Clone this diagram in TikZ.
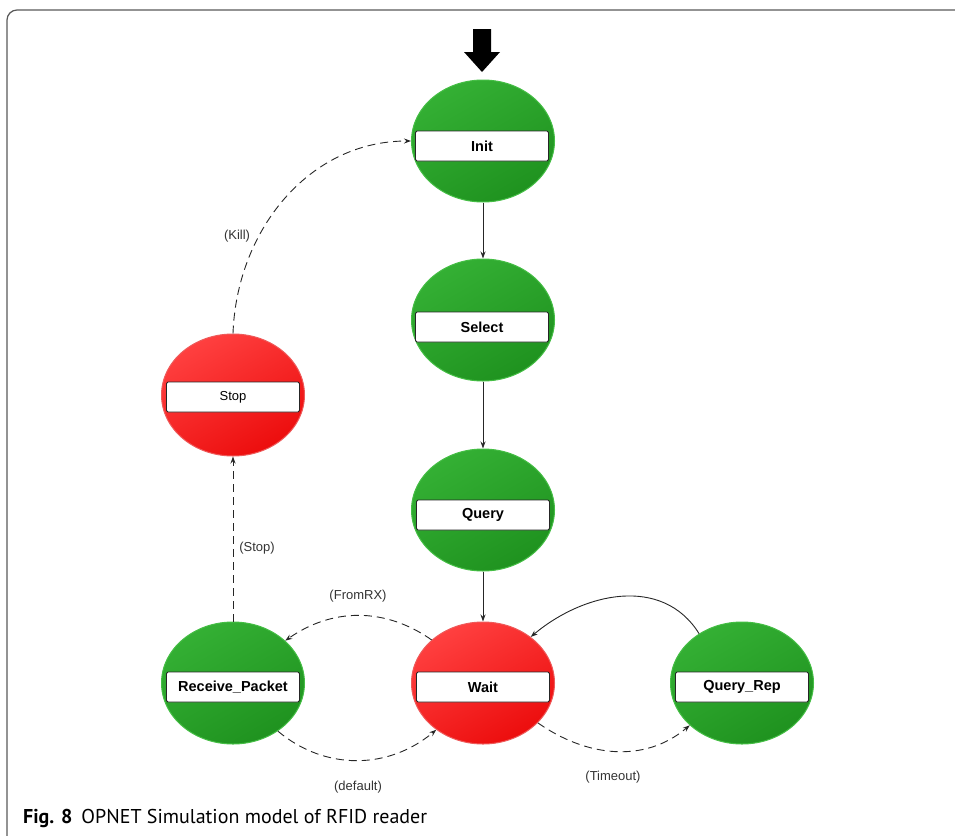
\documentclass[tikz,border=0pt]{standalone}
\usepackage{fontspec}
\setmainfont{Liberation Sans}
\newfontfamily\capfont{PT Sans}
\usetikzlibrary{shapes.geometric,arrows.meta,calc}
\definecolor{gLight}{HTML}{34B034}
\definecolor{gDark}{HTML}{1F921F}
\definecolor{gEdge}{HTML}{45BE45}
\definecolor{rLight}{HTML}{FF4040}
\definecolor{rDark}{HTML}{EC0D0D}
\definecolor{rEdge}{HTML}{EE5A5A}
\begin{document}
\begin{tikzpicture}[x=1pt,y=1pt]
\tikzset{
 st/.style={ellipse, minimum width=143pt, minimum height=122pt, inner sep=0pt, line width=1pt},
 gst/.style={st, top color=gLight, bottom color=gDark, shading angle=30, draw=gEdge},
 rst/.style={st, top color=rLight, bottom color=rDark, shading angle=30, draw=rEdge},
 lbl/.style={draw=black!85, fill=white, rounded corners=1.5pt, minimum width=133pt, minimum height=30pt, inner sep=0pt, line width=0.9pt, font=\bfseries\fontsize{14.5}{16}\selectfont},
 lblr/.style={lbl, font=\fontsize{13}{15}\selectfont},
 elab/.style={font=\fontsize{13}{15}\selectfont, text=black!80},
 arr/.style={-{Stealth[length=7pt,width=5pt]}, line width=0.9pt, draw=black!85},
 dsh/.style={arr, dash pattern=on 8pt off 5pt}
}
\useasboundingbox (0,0) rectangle (955,-835);
% frame
\draw[gray!70!black, line width=1.2pt, rounded corners=10pt] (7,-836) -- (7,-10) -- (957,-10);
% states
\node[gst] (init) at (483,-141) {};
\node[gst] (select) at (483,-320) {};
\node[gst] (query) at (483,-510) {};
\node[rst] (wait) at (483,-683) {};
\node[gst] (rp) at (233,-683) {};
\node[rst] (stop) at (233,-395) {};
\node[gst] (qr) at (742,-683) {};
% labels
\node[lbl] (initL) at (482,-146) {Init};
\node[lbl] (selectL) at (482,-327) {Select};
\node[lbl] (queryL) at (483,-515) {Query};
\node[lbl] (waitL) at (483,-687) {Wait};
\node[lbl] (rpL) at (233,-687) {Receive\_Packet};
\node[lblr] (stopL) at (233,-397) {Stop};
\node[lbl] (qrL) at (742,-687) {Query\_Rep};
% initial arrow
\fill[black] (473,-29) -- (491,-29) -- (491,-52) -- (500,-52) -- (482,-72) -- (464,-52) -- (473,-52) -- cycle;
% transitions
\draw[arr] (init) -- (select);
\draw[arr] (select) -- (query);
\draw[arr] (query) -- (wait);
\draw[arr] (qr.131) to[out=122,in=40,looseness=1.05] (wait.44);
\draw[dsh] (wait.140) to[out=145,in=35] (rp.39);
\draw[dsh] (rp.313) to[out=-40,in=-140] (wait.225);
\draw[dsh] (wait.324) to[out=-35,in=-140] (qr.219);
\draw[dsh] (rp) -- (stop);
\draw[dsh] (stop.north) to[out=88,in=180] (init.west);
% edge labels
\node[elab] (lFromRX) at (358,-596) {(FromRX)};
\node[elab] (lDefault) at (358,-787) {(default)};
\node[elab] (lTimeout) at (613,-777) {(Timeout)};
\node[elab] (lStop) at (257,-548) {(Stop)};
\node[elab] (lKill) at (237,-236) {(Kill)};
% caption
\node[anchor=base west, inner sep=0pt, font=\capfont\fontsize{20}{24}\selectfont] (cap) at (23,-823) {\textbf{Fig. 8}\hspace{0.45em}OPNET Simulation model of RFID reader};
\end{tikzpicture}
\end{document}
